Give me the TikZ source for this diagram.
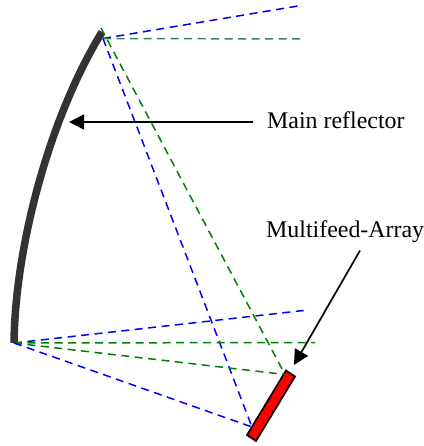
\documentclass[tikz,border=0pt]{standalone}
\usepackage{fontspec}
\setmainfont{Liberation Serif}
\usetikzlibrary{arrows.meta}
\definecolor{refl}{RGB}{51,51,51}
\definecolor{sgreen}{RGB}{46,139,87}
\definecolor{dgreen}{RGB}{0,128,0}
\tikzset{
  ray/.style={line width=1.5pt,dash pattern=on 8pt off 5.5pt},
  bray/.style={ray,draw=blue},
  gray ray/.style={ray,draw=dgreen},
  pointer/.style={line width=1.7pt,-{Triangle[length=15pt,width=15pt]},shorten >=0pt},
  lbl/.style={font=\fontsize{23.9}{25}\selectfont,anchor=base west,inner sep=0pt},
  reflector/.style={line width=7.5pt,draw=refl,line cap=butt},
  feed/.style={draw=black,line width=1.7pt,fill=red}
}
\begin{document}
\begin{tikzpicture}[x=1pt,y=-1pt]
\useasboundingbox (0,0) rectangle (423,446);
\coordinate (top) at (102,32);
\coordinate (bot) at (14,343);
\coordinate (topB) at (103,38.5);
\coordinate (topG) at (101,28);
\coordinate (botO) at (14,343);
\coordinate (farBt) at (298,6);
\coordinate (farGt) at (304,39);
\coordinate (farBb) at (308,310);
\coordinate (farGb) at (315,342.5);
\coordinate (feedG) at (285,374.5);
\coordinate (feedB) at (252,427);
\coordinate (mainS) at (253,122);
\coordinate (mainE) at (69,122);
\coordinate (arrS) at (360,250.5);
\coordinate (arrE) at (294,365);
\draw[reflector] (bot) .. controls (15,250) and (48,120) .. (top);
\draw[feed] (286,370.5) -- (295,376.5) -- (256,441) -- (247,435) -- cycle;
\draw[bray] (topB) -- (farBt);
\draw[ray,draw=sgreen] (topB) -- (farGt);
\draw[bray] (topB) -- (feedB);
\draw[gray ray] (topG) -- (feedG);
\draw[bray] (botO) -- (farBb);
\draw[gray ray] (botO) -- (farGb);
\draw[gray ray] (botO) -- (feedG);
\draw[bray] (botO) -- (feedB);
\draw[pointer] (mainS) -- (mainE);
\draw[pointer] (arrS) -- (arrE);
\node[lbl] (mainlbl) at (267,129) {Main reflector};
\node[lbl] (arrlbl) at (266,237) {Multifeed-Array};
\end{tikzpicture}
\end{document}
